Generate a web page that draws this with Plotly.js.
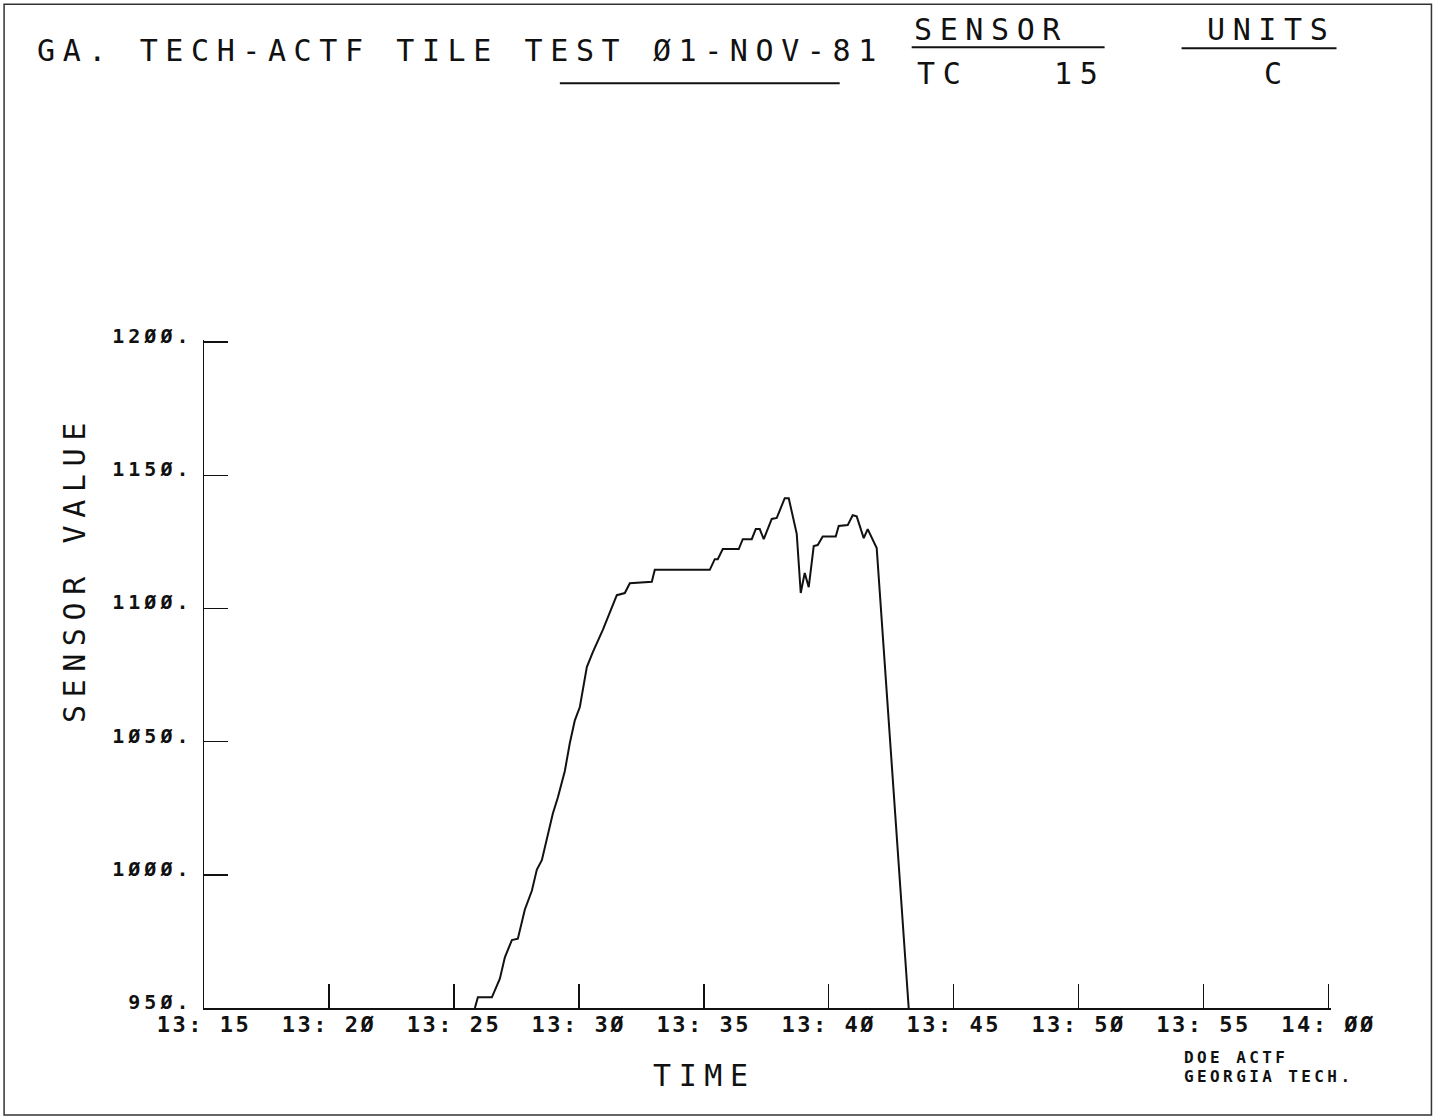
<!DOCTYPE html>
<html>
<head>
<meta charset="utf-8">
<script src="https://cdn.plot.ly/plotly-3.0.1.min.js"></script>
<style>
  html, body { margin: 0; padding: 0; background: #fff; }
  #plot { width: 1437px; height: 1119px; }
  .xtick text { letter-spacing: 2.5px; }
  .ytick text { letter-spacing: 4px; }
</style>
</head>
<body>
<div id="plot"></div>
<script>
// TC 15 thermocouple record, minutes after 13:00
const minutes = [
  25.84, 25.96, 26.52, 26.84, 27.04, 27.32, 27.56, 27.84, 28.12, 28.32,
  28.52, 28.72, 28.96, 29.16, 29.44, 29.64, 29.84, 30.04, 30.32, 30.56,
  30.96, 31.52, 31.84, 32.04, 32.92, 33.04, 35.24, 35.44, 35.56, 35.76,
  36.40, 36.56, 36.92, 37.08, 37.24, 37.40, 37.72, 37.92, 38.24, 38.40,
  38.72, 38.88, 39.04, 39.20, 39.40, 39.56, 39.76, 40.28, 40.40, 40.76,
  40.96, 41.12, 41.40, 41.56, 41.92, 43.20
];
const sensorValue = [
  950, 954, 954, 961, 969, 975.5, 976, 987, 994, 1002,
  1005.5, 1014, 1023, 1029, 1039, 1049.5, 1058, 1063, 1078, 1083.6,
  1092, 1105, 1105.8, 1109.5, 1110, 1114.5, 1114.5, 1118.5, 1118.5, 1122.3,
  1122.3, 1126, 1126, 1129.8, 1129.8, 1126, 1133.6, 1134, 1141.4, 1141.4,
  1128, 1105.8, 1113.3, 1108, 1123.4, 1123.8, 1127, 1127, 1131, 1131.3,
  1135, 1134.6, 1126.4, 1129.8, 1122.7, 950
];

const timeTicks = [15, 20, 25, 30, 35, 40, 45, 50, 55, 60];
const timeLabels = ["13: 15", "13: 2Ø", "13: 25", "13: 3Ø", "13: 35",
                    "13: 4Ø", "13: 45", "13: 5Ø", "13: 55", "14: ØØ"];
const valueTicks = [950, 1000, 1050, 1100, 1150, 1200];
const valueLabels = ["95Ø.", "1ØØØ.", "1Ø5Ø.", "11ØØ.", "115Ø.", "12ØØ."];

const MONO = "DejaVu Sans Mono, Liberation Mono, monospace";
const ink = "#111";

// page size and margins; each axis range runs a couple of pixels past its
// last tick so that Plotly keeps the end tick
const W = 1437, H = 1119;
const M = { l: 204, r: 105.5, t: 339.9, b: 111 };
const plotW = W - M.l - M.r;
const plotH = H - M.t - M.b;
// page pixel -> paper fraction, for header text, rules and the frame
const px = v => (v - M.l) / plotW;
const py = v => (H - M.b - v) / plotH;

function big(t) { return '<span style="letter-spacing:7.6px">' + t + '</span>'; }
function small(t) { return '<span style="letter-spacing:3.4px">' + t + '</span>'; }

const trace = {
  x: minutes,
  y: sensorValue,
  type: "scatter",
  mode: "lines",
  line: { color: ink, width: 2 },
  cliponaxis: true,
  hoverinfo: "skip"
};

const bigFont = { size: 30, family: MONO, color: ink };
const smallFont = { size: 16, family: MONO, color: ink, weight: "bold" };

function label(text, x, y, font, extra) {
  return Object.assign({
    text: text, x: px(x), y: py(y), xref: "paper", yref: "paper",
    xanchor: "left", yanchor: "middle", showarrow: false, font: font
  }, extra || {});
}
function rule(x0, x1, y) {
  return { type: "line", xref: "paper", yref: "paper",
           x0: px(x0), x1: px(x1), y0: py(y), y1: py(y),
           line: { color: ink, width: 2 } };
}

const layout = {
  width: W,
  height: H,
  margin: M,
  paper_bgcolor: "#fff",
  plot_bgcolor: "#fff",
  showlegend: false,
  font: { family: MONO, color: ink },
  xaxis: {
    range: [15, 60.1],
    tickvals: timeTicks,
    ticktext: timeLabels,
    ticks: "inside",
    ticklen: 24,
    tickwidth: 1.5,
    tickcolor: ink,
    showline: true,
    linecolor: ink,
    linewidth: 1.5,
    showgrid: false,
    zeroline: false,
    ticklabelstandoff: -4,
    tickfont: { family: MONO, size: 22, color: ink, weight: "bold" }
  },
  yaxis: {
    range: [950, 1200.8],
    tickvals: valueTicks,
    ticktext: valueLabels,
    ticks: "inside",
    ticklen: 24,
    tickwidth: 1.5,
    tickcolor: ink,
    showline: true,
    linecolor: ink,
    linewidth: 1.5,
    showgrid: false,
    zeroline: false,
    ticklabelstandoff: 6,
    ticklabelshift: -6,
    tickfont: { family: MONO, size: 20, color: ink, weight: "bold" }
  },
  annotations: [
    label(big("GA. TECH-ACTF TILE TEST Ø1-NOV-81"), 35, 50, bigFont),
    label(big("SENSOR"), 912, 29, bigFont),
    label(big("TC"), 915, 73, bigFont),
    label(big("15"), 1052, 73, bigFont),
    label(big("UNITS"), 1205, 29, bigFont),
    label(big("C"), 1262, 73, bigFont),
    label(big("TIME"), 705, 1076, bigFont, { xanchor: "center" }),
    label(big("SENSOR VALUE"), 74, 569, bigFont, { xanchor: "center", textangle: -90 }),
    label(small("DOE ACTF"), 1182, 1058, smallFont),
    label(small("GEORGIA TECH."), 1182, 1077, smallFont)
  ],
  shapes: [
    // page frame
    { type: "rect", xref: "paper", yref: "paper", x0: px(4), x1: px(1432),
      y0: py(1115), y1: py(4), line: { color: "#333", width: 1.5 } },
    // header rules
    rule(912, 1105, 47),
    rule(1182, 1337, 48),
    rule(560, 840, 83)
  ]
};

Plotly.newPlot("plot", [trace], layout, { staticPlot: true, displayModeBar: false });
</script>
</body>
</html>
